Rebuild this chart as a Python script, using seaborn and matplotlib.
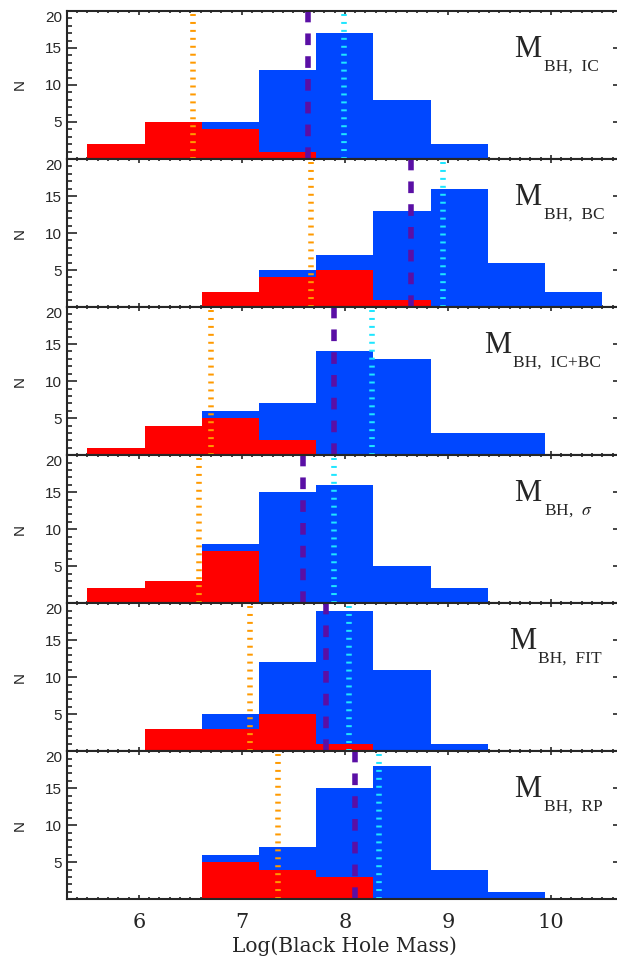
import numpy as np
import pandas as pd
import matplotlib
matplotlib.use('Agg')
import matplotlib.pyplot as plt
import seaborn as sns
from matplotlib.ticker import MultipleLocator

# histogram bin edges (log M_BH)
bin_edges = [5.5, 6.056, 6.611, 7.167, 7.722, 8.278, 8.833, 9.389, 9.944, 10.5]

# panel labels (subscript after "BH, ")
methods = ['IC', 'BC', 'IC+BC', r'$\sigma$', 'FIT', 'RP']

# full sample counts per bin (blue)
blue_ic = [2, 5, 5, 12, 17, 8, 2, 0, 0]
blue_bc = [0, 0, 2, 5, 7, 13, 16, 6, 2]
blue_icbc = [1, 4, 6, 7, 14, 13, 3, 3, 0]
blue_sigma = [2, 3, 8, 15, 16, 5, 2, 0, 0]
blue_fit = [0, 3, 5, 12, 19, 11, 1, 0, 0]
blue_rp = [0, 0, 6, 7, 15, 18, 4, 1, 0]

# subsample counts per bin (red)
red_ic = [2, 5, 4, 1, 0, 0, 0, 0, 0]
red_bc = [0, 0, 2, 4, 5, 1, 0, 0, 0]
red_icbc = [1, 4, 5, 2, 0, 0, 0, 0, 0]
red_sigma = [2, 3, 7, 0, 0, 0, 0, 0, 0]
red_fit = [0, 3, 3, 5, 1, 0, 0, 0, 0]
red_rp = [0, 0, 5, 4, 3, 0, 0, 0, 0]

# reference lines
orange_vals = [6.53, 7.675, 6.70, 6.58, 7.075, 7.35]
purple_vals = [7.645, 8.645, 7.895, 7.59, 7.815, 8.10]
cyan_vals = [7.99, 8.95, 8.26, 7.895, 8.045, 8.327]

blue_all = [blue_ic, blue_bc, blue_icbc, blue_sigma, blue_fit, blue_rp]
red_all = [red_ic, red_bc, red_icbc, red_sigma, red_fit, red_rp]

BLUE = '#0047ff'
RED = '#ff0000'
ORANGE = '#ff9a00'
CYAN = '#1ee6ff'
PURPLE = '#5a0fa5'

sns.set_style('ticks')
plt.rcParams['mathtext.fontset'] = 'stix'
plt.rcParams['axes.linewidth'] = 1.5

edges = np.array(bin_edges)
centers = (edges[:-1] + edges[1:]) / 2

fig, axes = plt.subplots(6, 1, figsize=(6.17, 9.61), dpi=100, sharex=True)
fig.subplots_adjust(left=0.1081, right=1.0097, bottom=0.0642, top=0.9886, hspace=0)

label_x = [0.805, 0.805, 0.75, 0.805, 0.795, 0.805]

for i, ax in enumerate(axes):
    df = pd.DataFrame({'center': centers, 'all': blue_all[i], 'sub': red_all[i]})
    sns.histplot(data=df, x='center', weights='all', bins=bin_edges, ax=ax,
                 color=BLUE, alpha=1, linewidth=0, element='bars')
    sns.histplot(data=df, x='center', weights='sub', bins=bin_edges, ax=ax,
                 color=RED, alpha=1, linewidth=0, element='bars')

    ax.axvline(orange_vals[i], color=ORANGE, lw=4, ls=(0, (0.36, 1.07)),
               dash_capstyle='butt')
    ax.axvline(purple_vals[i], color=PURPLE, lw=4, ls=(0, (2.1, 2.0)),
               dash_capstyle='butt')
    ax.axvline(cyan_vals[i], color=CYAN, lw=4, ls=(0, (0.36, 1.07)),
               dash_capstyle='butt')

    ax.set_xlim(5.3, 10.7)
    ax.set_ylim(0, 20)
    ax.set_yticks([5, 10, 15, 20])
    ax.yaxis.set_minor_locator(MultipleLocator(1))
    ax.xaxis.set_major_locator(MultipleLocator(1))
    ax.xaxis.set_minor_locator(MultipleLocator(0.1))

    ax.tick_params(axis='both', which='both', direction='in', top=True, right=True,
                   width=1.2)
    ax.tick_params(axis='y', which='major', length=7, pad=3.5, labelsize=11)
    ax.tick_params(axis='y', which='minor', length=3.5)
    ax.tick_params(axis='x', which='major', length=3, pad=10, labelsize=15)
    ax.tick_params(axis='x', which='minor', length=1.5)
    for lab in ax.get_yticklabels():
        lab.set_family('Liberation Sans')
    ax.get_yticklabels()[-1].set_va('top')
    for lab in ax.get_xticklabels():
        lab.set_family('DejaVu Serif')

    ax.set_ylabel('N', fontsize=11, family='Liberation Sans')
    ax.yaxis.set_label_coords(-0.071, 0.5)
    ax.set_xlabel('')

    mtxt = ax.text(label_x[i], 0.69, 'M', transform=ax.transAxes, fontsize=22,
                   family='Liberation Serif', va='baseline', ha='left')
    ax.annotate('BH,  ' + methods[i], xy=(1, 0), xycoords=mtxt,
                xytext=(1.5, 4), textcoords='offset points', va='top', ha='left',
                fontsize=12.5, family='Liberation Serif')

axes[-1].set_xlabel('Log(Black Hole Mass)', fontsize=14.5, family='DejaVu Serif',
                    labelpad=3)

plt.savefig('out.png', dpi=100)
